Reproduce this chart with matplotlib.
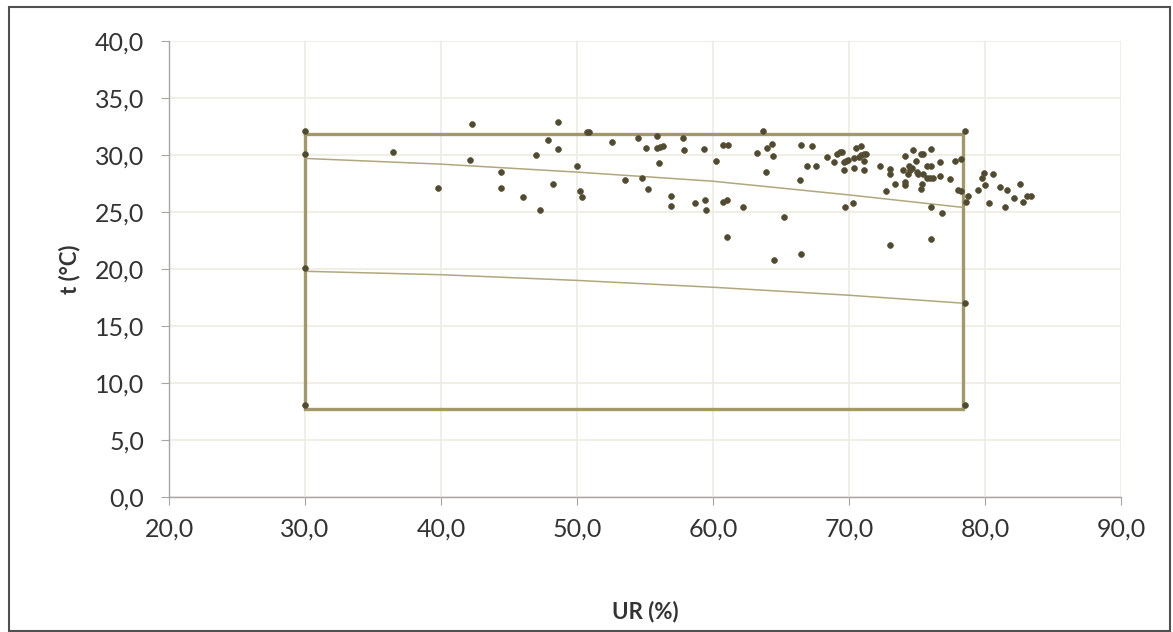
import matplotlib.pyplot as plt
from matplotlib.patches import Rectangle
from matplotlib.ticker import FuncFormatter, MultipleLocator

# measured points (UR %, t °C)
ur = [30.0, 30.0, 30.0, 30.0, 78.5, 78.5, 78.5,
      36.5, 39.8, 42.3, 42.1,
      48.6, 47.9, 48.6, 47.0, 44.4, 44.4, 46.0, 47.3, 48.2, 50.0, 50.2, 50.4,
      50.7, 50.9, 52.6, 53.5, 54.5, 54.8, 55.1, 55.2, 55.9, 55.9, 56.1, 56.3,
      56.0, 56.9, 56.9, 57.8, 57.9,
      63.65, 59.3, 60.7, 61.1, 60.2, 58.65, 59.4, 59.5, 60.7, 61.0, 62.2, 61.05,
      63.2, 64.0, 64.3, 64.4, 63.9, 65.2, 64.5, 66.5, 66.5, 67.3, 66.4, 66.9,
      67.6, 68.4, 68.9, 69.1, 69.3, 69.5, 69.6, 69.8, 69.9, 69.6, 69.7, 70.3,
      70.4, 70.5, 70.9, 70.4, 70.7, 70.9, 71.1, 71.25, 71.1, 71.1, 72.3, 73.0,
      73.0, 72.7, 73.0,
      73.35, 74.1, 74.7, 75.3, 75.45, 76.05, 74.9, 74.4, 74.5, 74.6, 73.95, 74.3,
      74.1, 74.1, 75.0, 75.1, 75.45, 75.75, 76.05, 75.75, 75.95, 76.2, 75.4, 75.3,
      76.7, 76.7, 77.4, 77.8, 78.2, 76.05, 76.8, 76.05, 78.0, 78.2, 78.75, 78.6,
      79.5, 79.8, 79.9, 80.0, 80.6, 80.3, 81.1, 81.65, 81.5, 82.1, 82.6, 82.8,
      83.1, 83.35]
temp = [32.1, 30.1, 20.1, 8.1, 32.1, 17.0, 8.1,
        30.3, 27.1, 32.7, 29.6,
        32.9, 31.3, 30.5, 30.0, 28.5, 27.1, 26.3, 25.2, 27.5, 29.0, 26.8, 26.3,
        32.0, 32.0, 31.1, 27.8, 31.5, 28.0, 30.6, 27.0, 31.7, 30.6, 30.7, 30.8,
        29.3, 26.4, 25.5, 31.5, 30.4,
        32.1, 30.5, 30.9, 30.9, 29.5, 25.8, 26.05, 25.2, 25.9, 26.05, 25.4, 22.8,
        30.15, 30.6, 31.0, 29.9, 28.5, 24.6, 20.8, 21.3, 30.9, 30.8, 27.8, 29.0,
        29.0, 29.8, 29.4, 30.1, 30.3, 30.3, 29.4, 29.5, 29.6, 28.7, 25.4, 25.8,
        28.9, 30.6, 30.8, 29.7, 29.85, 30.0, 30.1, 30.1, 29.5, 28.65, 29.0, 28.8,
        28.3, 26.8, 22.1,
        27.5, 29.9, 30.4, 30.1, 30.1, 30.5, 29.5, 29.0, 28.7, 28.9, 28.65, 28.3,
        27.65, 27.4, 28.5, 28.3, 28.3, 29.0, 29.0, 28.0, 28.0, 28.0, 27.5, 27.0,
        29.4, 28.2, 27.9, 29.5, 29.65, 25.4, 24.95, 22.6, 26.9, 26.8, 26.4, 25.9,
        26.9, 28.0, 28.4, 27.4, 28.3, 25.8, 27.2, 26.9, 25.4, 26.2, 27.5, 25.9,
        26.4, 26.4]

# comfort zone
box_x = [30.0, 78.4, 78.4, 30.0, 30.0]
box_t = [31.8, 31.8, 7.7, 7.7, 31.8]
upper_x = [30, 40, 50, 60, 70, 78.4]
upper_t = [29.7, 29.2, 28.5, 27.7, 26.5, 25.4]
lower_x = [30, 40, 50, 60, 70, 78.4]
lower_t = [19.8, 19.5, 19.0, 18.4, 17.7, 17.0]

plt.rcParams['font.family'] = ['Lato', 'DejaVu Sans']

fig = plt.figure(figsize=(11.73, 6.32), dpi=100)
ax = fig.add_axes([0.1441, 0.2136, 0.8116, 0.7215])

ax.plot(box_x, box_t, color='#A39968', lw=2.4, solid_joinstyle='miter', zorder=2)
ax.plot(upper_x, upper_t, color='#B0A87C', lw=1.1, zorder=2)
ax.plot(lower_x, lower_t, color='#B0A87C', lw=1.1, zorder=2)
ax.plot(ur, temp, 'o', color='#4F4A30', ms=4.2, mec='#5A553A', mew=0.5, zorder=3)

ax.set_xlim(20, 90)
ax.set_ylim(0, 40)
ax.xaxis.set_major_locator(MultipleLocator(10))
ax.yaxis.set_major_locator(MultipleLocator(5))
fmt = FuncFormatter(lambda v, p: f'{v:.1f}'.replace('.', ','))
ax.xaxis.set_major_formatter(fmt)
ax.yaxis.set_major_formatter(fmt)

ax.grid(True, color='#EFECE0', lw=1.2, zorder=0)
ax.set_axisbelow(True)
for s in ['top', 'right']:
    ax.spines[s].set_visible(False)
for s in ['left', 'bottom']:
    ax.spines[s].set_color('#A6A6A6')
    ax.spines[s].set_linewidth(1.0)
ax.tick_params(axis='both', length=6, color='#A6A6A6', labelsize=18,
               labelcolor='#333333')
ax.tick_params(axis='y', pad=12)
ax.tick_params(axis='x', pad=9)

ax.set_xlabel('UR (%)', fontsize=16, fontweight='bold', color='#333333', labelpad=43)
ax.set_ylabel('t (°C)', fontsize=16, fontweight='bold', color='#333333', labelpad=10)

fig.patches.append(Rectangle((9 / 1173, 1 / 632), 1161 / 1173, 624 / 632,
                             transform=fig.transFigure, fill=False,
                             edgecolor='#505050', lw=1.5))

fig.savefig('out.png', dpi=100)
